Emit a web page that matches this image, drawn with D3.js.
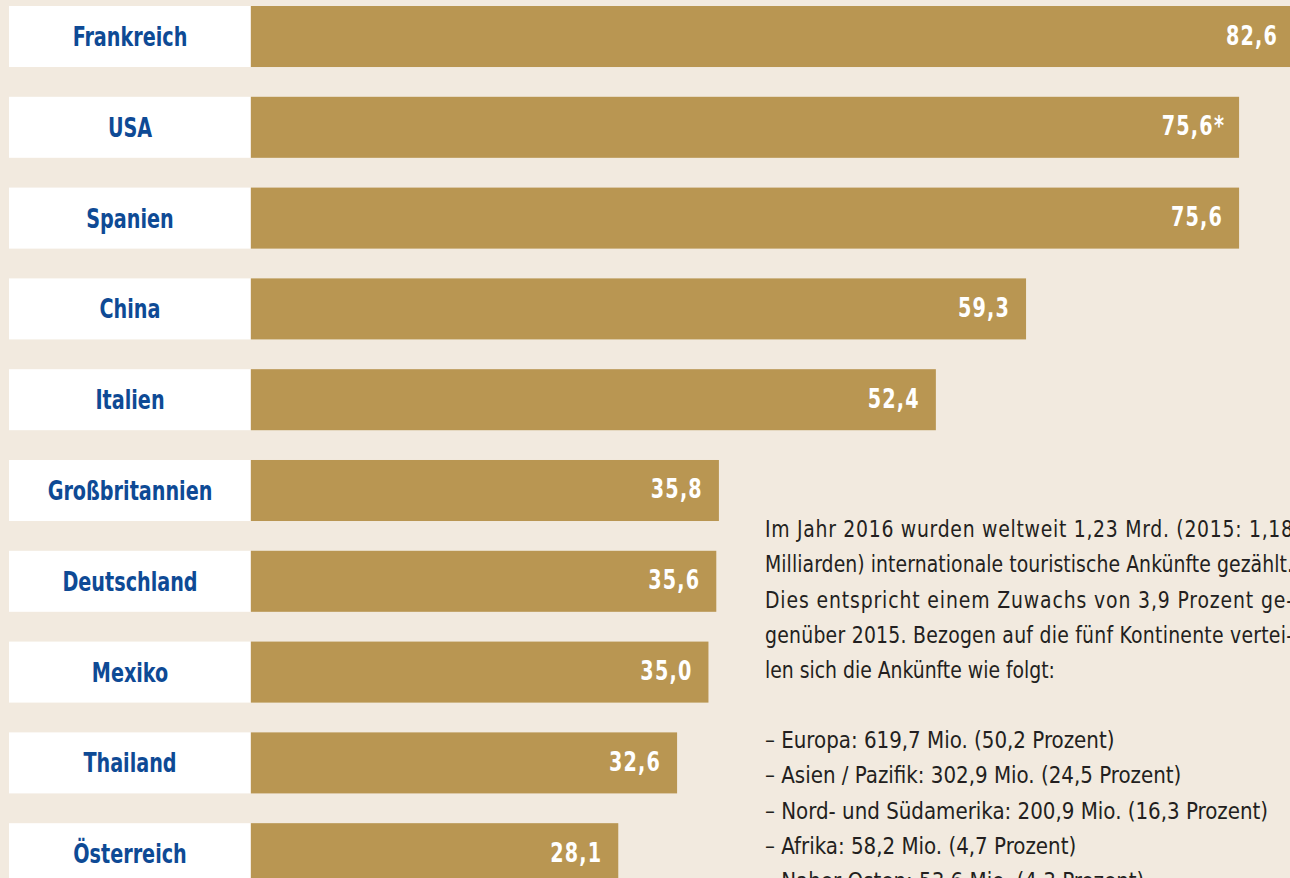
<!DOCTYPE html>
<html>
<head>
<meta charset="utf-8">
<script src="https://cdn.jsdelivr.net/npm/d3@7"></script>
<style>
  html, body { margin: 0; padding: 0; background: #f2eadf; overflow: hidden; }
  svg { display: block; }
  .cond { font-family: "Liberation Sans Narrow", "Arial Narrow", "DejaVu Sans Condensed", sans-serif; font-stretch: condensed; }
</style>
</head>
<body>
<div id="chart-area"></div>
<script>
// Internationale touristische Ankünfte 2016 in Millionen
const countries = ['Frankreich', 'USA', 'Spanien', 'China', 'Italien',
  'Großbritannien', 'Deutschland', 'Mexiko', 'Thailand', 'Österreich'];
const arrivals = [82.6, 75.6, 75.6, 59.3, 52.4, 35.8, 35.6, 35.0, 32.6, 28.1];
const notes = ['', '*', '', '', '', '', '', '', '', ''];

const introLines = [
  'Im Jahr 2016 wurden weltweit 1,23 Mrd. (2015: 1,18',
  'Milliarden) internationale touristische Ankünfte gezählt.',
  'Dies entspricht einem Zuwachs von 3,9 Prozent ge-',
  'genüber 2015. Bezogen auf die fünf Kontinente vertei-',
  'len sich die Ankünfte wie folgt:'
];
const regions = [
  '– Europa: 619,7 Mio. (50,2 Prozent)',
  '– Asien / Pazifik: 302,9 Mio. (24,5 Prozent)',
  '– Nord- und Südamerika: 200,9 Mio. (16,3 Prozent)',
  '– Afrika: 58,2 Mio. (4,7 Prozent)',
  '– Naher Osten: 53,6 Mio. (4,3 Prozent)'
];

const width = 1290, height = 878;
// no narrow font installed, so squeeze the condensed one a bit more
const boldSqueeze = 0.79, introSqueeze = 0.91, listSqueeze = 0.96;

const svg = d3.select('#chart-area').append('svg')
  .attr('width', width)
  .attr('height', height);

svg.append('rect')
  .attr('width', width)
  .attr('height', height)
  .attr('fill', '#f2eadf');

const de = d3.formatLocale({ decimal: ',', thousands: '.', grouping: [3], currency: ['', ' €'] });
const fmt = de.format('.1f');

// rows
let y = d3.scaleBand()
  .domain(countries)
  .range([6, 884.2])
  .paddingInner(0.328)
  .paddingOuter(0);

// bar length, the first bar runs off the page
let x = d3.scaleLinear()
  .domain([0, 80])
  .range([251, 251 + 80 * 13.07]);

const rows = svg.selectAll('g.row')
  .data(countries)
  .enter()
  .append('g')
    .attr('class', 'row')
    .attr('transform', d => 'translate(0,' + y(d) + ')');

rows.append('rect')
  .attr('x', 9)
  .attr('width', 241)
  .attr('height', y.bandwidth())
  .attr('fill', '#ffffff');

rows.append('text')
  .attr('class', 'cond')
  .attr('transform', 'translate(130,' + (y.bandwidth() / 2 + 9.5) + ') scale(' + boldSqueeze + ',1)')
  .attr('text-anchor', 'middle')
  .attr('font-size', '27px')
  .attr('font-weight', 'bold')
  .attr('fill', '#0e4a95')
  .text(d => d);

rows.append('rect')
  .attr('x', x(0))
  .attr('width', (d, i) => x(arrivals[i]) - x(0))
  .attr('height', y.bandwidth())
  .attr('fill', '#b99652');

rows.append('text')
  .attr('class', 'cond')
  .attr('transform', (d, i) => 'translate(' + (Math.min(x(arrivals[i]), 1294) - 16 + (notes[i] ? 2 : 0))
    + ',' + (y.bandwidth() / 2 + 8) + ') scale(' + boldSqueeze + ',1)')
  .attr('text-anchor', 'end')
  .attr('font-size', '27px')
  .attr('font-weight', 'bold')
  .attr('letter-spacing', '1.5px')
  .attr('fill', '#ffffff')
  .text((d, i) => fmt(arrivals[i]) + notes[i]);

// text block on the right (justified lines run to the page edge like the original)
const textX = 765, textRight = 1293, lineH = 35.3;

svg.selectAll('text.intro')
  .data(introLines)
  .enter()
  .append('text')
    .attr('class', 'intro cond')
    .attr('transform', (d, i) => 'translate(' + textX + ',' + (537 + i * lineH) + ') scale(' + introSqueeze + ',1)')
    .attr('font-size', '23px')
    .attr('fill', '#231f20')
    .attr('textLength', (d, i) => i < 4 ? (textRight - textX) / introSqueeze : null)
    .attr('lengthAdjust', 'spacing')
    .text(d => d);

svg.selectAll('text.region')
  .data(regions)
  .enter()
  .append('text')
    .attr('class', 'region cond')
    .attr('transform', (d, i) => 'translate(' + textX + ',' + (748 + i * lineH) + ') scale(' + listSqueeze + ',1)')
    .attr('font-size', '23px')
    .attr('fill', '#231f20')
    .text(d => d);
</script>
</body>
</html>
